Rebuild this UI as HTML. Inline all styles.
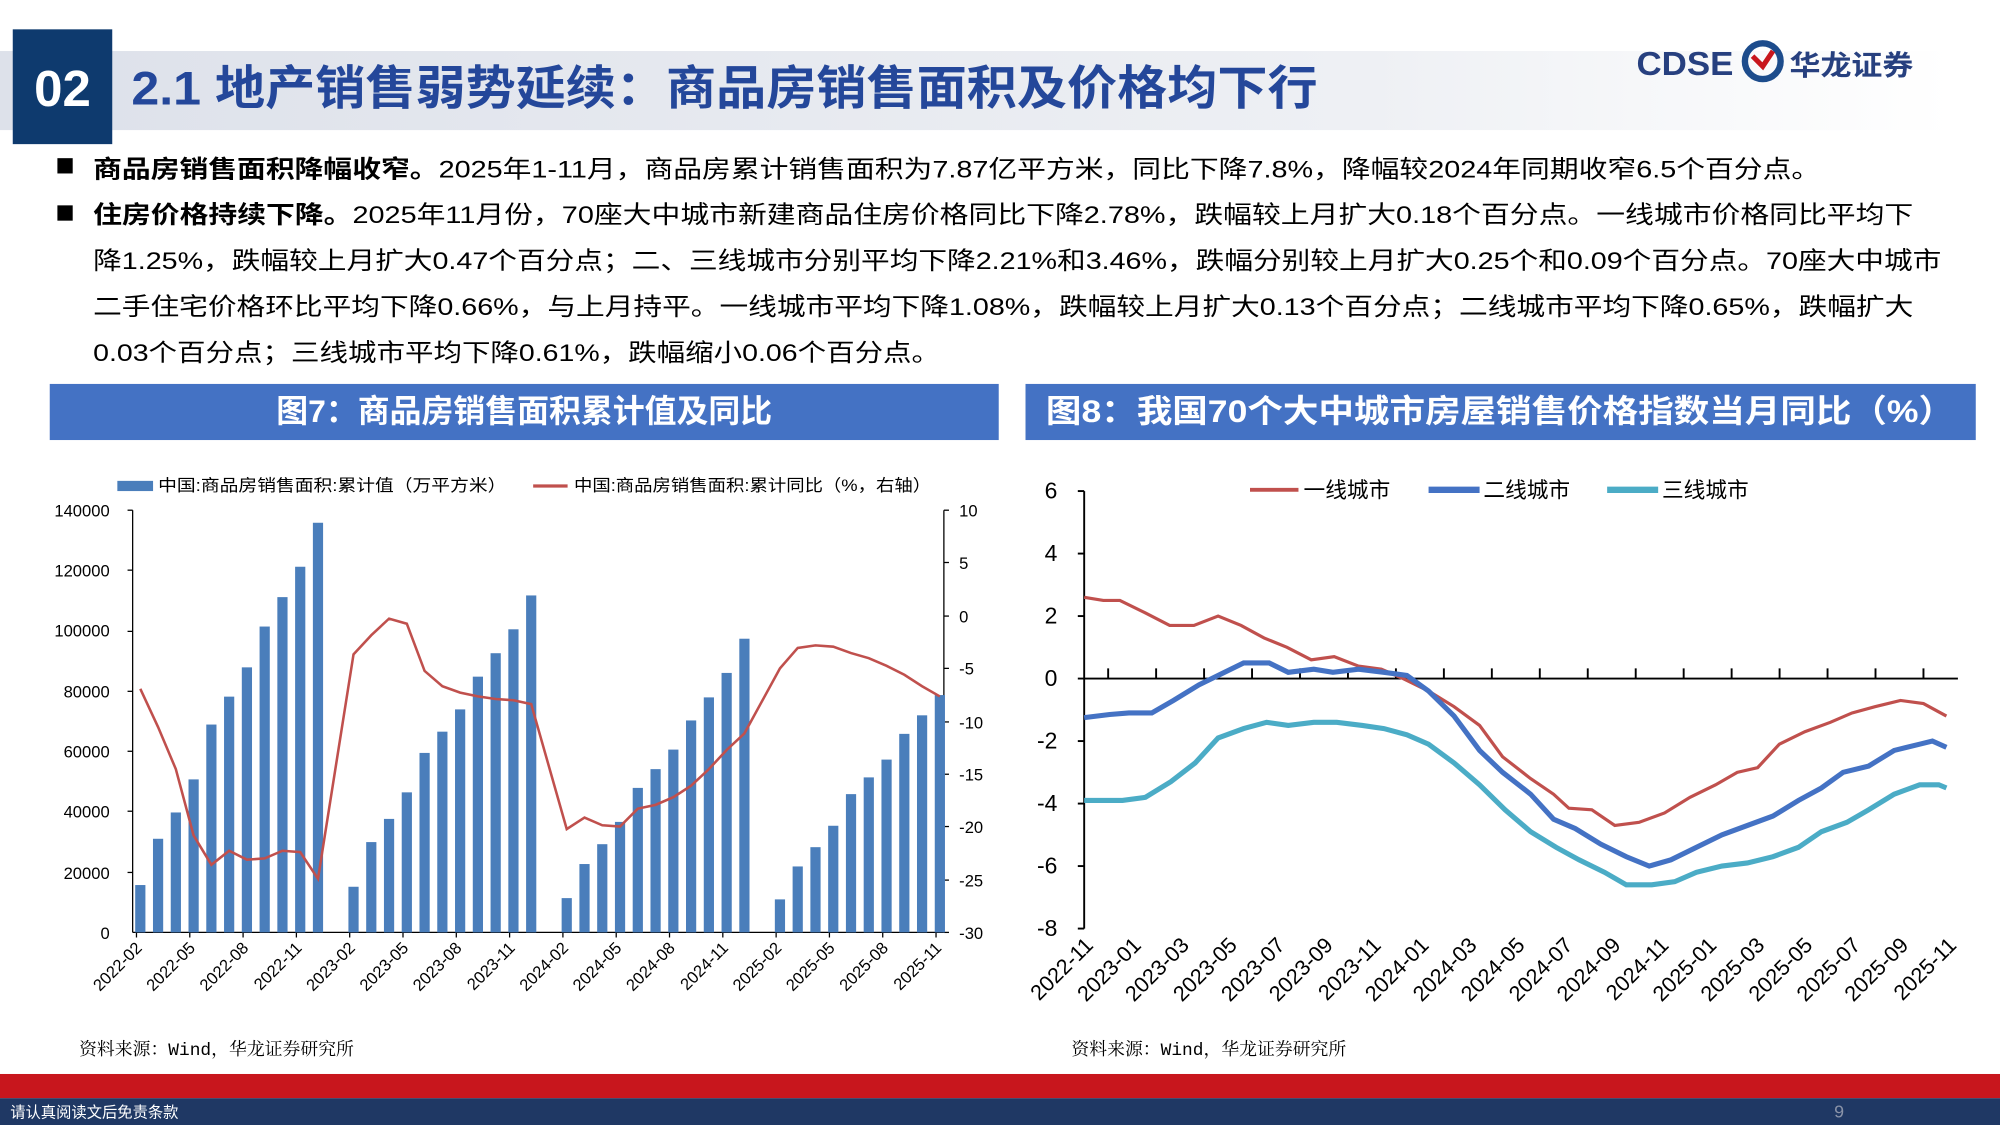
<!DOCTYPE html>
<html><head><meta charset="utf-8"><style>
html,body{margin:0;padding:0;background:#fff;width:2000px;height:1125px;overflow:hidden}
svg{display:block}
text{font-family:"Liberation Sans","Noto Sans CJK SC",sans-serif}
.s{font-family:"Liberation Mono","Noto Serif CJK SC",serif}
</style></head><body>
<svg width="2000" height="1125" viewBox="0 0 1568 882" xmlns="http://www.w3.org/2000/svg">
<defs>
<linearGradient id="hg" x1="0" x2="1" y1="0" y2="0"><stop offset="0" stop-color="#dde1ea"/><stop offset="0.7" stop-color="#eef0f4"/><stop offset="1" stop-color="#fff"/></linearGradient>
</defs>
<rect x="0" y="40" width="1530" height="62" fill="url(#hg)"/>
<rect x="10" y="23" width="78" height="90" fill="#0e3a6e"/>
<text x="49" y="83" font-size="40" font-weight="bold" fill="#fff" text-anchor="middle">02</text>
<text x="103" y="82" font-size="37" font-weight="bold" fill="#24479a" textLength="930" lengthAdjust="spacingAndGlyphs">2.1 地产销售弱势延续：商品房销售面积及价格均下行</text>
<text x="1283" y="59" font-size="26" font-weight="bold" fill="#27407f" textLength="76" lengthAdjust="spacingAndGlyphs">CDSE</text>
<circle cx="1382" cy="48" r="14" fill="none" stroke="#1d4c8c" stroke-width="5"/>
<path d="M1374 44 l8 8 l8 -12" stroke="#c8161d" stroke-width="4" fill="none"/>
<text x="1403" y="59" font-size="22" font-weight="bold" fill="#27407f" textLength="97" lengthAdjust="spacingAndGlyphs">华龙证券</text>

<g font-size="19" fill="#000">
<rect x="45" y="124" width="12" height="12"/>
<text x="73" y="139" textLength="1354" lengthAdjust="spacingAndGlyphs"><tspan font-weight="bold">商品房销售面积降幅收窄。</tspan>2025年1-11月，商品房累计销售面积为7.87亿平方米，同比下降7.8%，降幅较2024年同期收窄6.5个百分点。</text>
<rect x="45" y="161" width="12" height="12"/>
<text x="73" y="175" textLength="1427" lengthAdjust="spacingAndGlyphs"><tspan font-weight="bold">住房价格持续下降。</tspan>2025年11月份，70座大中城市新建商品住房价格同比下降2.78%，跌幅较上月扩大0.18个百分点。一线城市价格同比平均下</text>
<text x="73" y="211" textLength="1449" lengthAdjust="spacingAndGlyphs">降1.25%，跌幅较上月扩大0.47个百分点；二、三线城市分别平均下降2.21%和3.46%，跌幅分别较上月扩大0.25个和0.09个百分点。70座大中城市</text>
<text x="73" y="247" textLength="1427" lengthAdjust="spacingAndGlyphs">二手住宅价格环比平均下降0.66%，与上月持平。一线城市平均下降1.08%，跌幅较上月扩大0.13个百分点；二线城市平均下降0.65%，跌幅扩大</text>
<text x="73" y="283" textLength="664" lengthAdjust="spacingAndGlyphs">0.03个百分点；三线城市平均下降0.61%，跌幅缩小0.06个百分点。</text>
</g>

<rect x="39" y="301" width="744" height="44" fill="#4472c4"/>
<text x="411" y="331" font-size="25" font-weight="bold" fill="#fff" text-anchor="middle">图7：商品房销售面积累计值及同比</text>
<rect x="804" y="301" width="745" height="44" fill="#4472c4"/>
<text x="1176" y="331" font-size="25" font-weight="bold" fill="#fff" text-anchor="middle" textLength="712" lengthAdjust="spacingAndGlyphs">图8：我国70个大中城市房屋销售价格指数当月同比（%）</text>

<g font-size="13" fill="#000">
<rect x="92" y="377" width="28" height="8" fill="#4a7ebb"/>
<text x="124" y="385" textLength="273" lengthAdjust="spacingAndGlyphs">中国:商品房销售面积:累计值（万平方米）</text>
<line x1="418" y1="381" x2="445" y2="381" stroke="#c0504d" stroke-width="2.5"/>
<text x="450" y="385" textLength="280" lengthAdjust="spacingAndGlyphs">中国:商品房销售面积:累计同比（%，右轴）</text>
<g text-anchor="end">
<text x="86" y="405">140000</text><text x="86" y="452">120000</text><text x="86" y="499">100000</text><text x="86" y="547">80000</text><text x="86" y="594">60000</text><text x="86" y="641">40000</text><text x="86" y="689">20000</text><text x="86" y="736">0</text>
</g>
<g>
<text x="752" y="405">10</text><text x="752" y="446">5</text><text x="752" y="488">0</text><text x="752" y="529">-5</text><text x="752" y="571">-10</text><text x="752" y="612">-15</text><text x="752" y="653">-20</text><text x="752" y="695">-25</text><text x="752" y="736">-30</text>
</g>
</g>
<g stroke="#000" stroke-width="1">
<line x1="104" y1="400" x2="104" y2="731"/><line x1="100" y1="400" x2="104" y2="400"/><line x1="100" y1="447" x2="104" y2="447"/><line x1="100" y1="495" x2="104" y2="495"/><line x1="100" y1="542" x2="104" y2="542"/><line x1="100" y1="589" x2="104" y2="589"/><line x1="100" y1="636" x2="104" y2="636"/><line x1="100" y1="684" x2="104" y2="684"/>
<line x1="740" y1="400" x2="740" y2="731"/>
<line x1="740" y1="400" x2="744" y2="400"/><line x1="740" y1="441" x2="744" y2="441"/><line x1="740" y1="483" x2="744" y2="483"/><line x1="740" y1="524" x2="744" y2="524"/><line x1="740" y1="566" x2="744" y2="566"/><line x1="740" y1="607" x2="744" y2="607"/><line x1="740" y1="648" x2="744" y2="648"/><line x1="740" y1="690" x2="744" y2="690"/><line x1="740" y1="731" x2="744" y2="731"/>
<line x1="104" y1="731" x2="740" y2="731"/>
</g>
<g id="bars" fill="#4a7ebb"></g>
<g id="lticks" stroke="#000"></g>
<g id="lxl" font-size="13" fill="#000"></g>
<polyline id="lline" fill="none" stroke="#c0504d" stroke-width="2"/>
<text class="s" x="62" y="827" font-size="14" fill="#000">资料来源：Wind，华龙证券研究所</text>

<g font-size="17" fill="#000">
<line x1="980" y1="384" x2="1018" y2="384" stroke="#c0504d" stroke-width="3"/><text x="1022" y="390">一线城市</text>
<line x1="1120" y1="384" x2="1160" y2="384" stroke="#4472c4" stroke-width="5"/><text x="1163" y="390">二线城市</text>
<line x1="1260" y1="384" x2="1300" y2="384" stroke="#4bacc6" stroke-width="5"/><text x="1303" y="390">三线城市</text>
<g text-anchor="end" font-size="18">
<text x="829" y="391">6</text><text x="829" y="440">4</text><text x="829" y="489">2</text><text x="829" y="538">0</text><text x="829" y="587">-2</text><text x="829" y="636">-4</text><text x="829" y="685">-6</text><text x="829" y="734">-8</text>
</g>
</g>
<g stroke="#000" stroke-width="1.5">
<line x1="850" y1="385" x2="850" y2="728"/>
<line x1="845" y1="385" x2="850" y2="385"/><line x1="845" y1="434" x2="850" y2="434"/><line x1="845" y1="483" x2="850" y2="483"/><line x1="845" y1="581" x2="850" y2="581"/><line x1="845" y1="630" x2="850" y2="630"/><line x1="845" y1="679" x2="850" y2="679"/><line x1="845" y1="728" x2="850" y2="728"/>
<line x1="845" y1="532" x2="1535" y2="532"/>
</g>
<g id="rticks" stroke="#000" stroke-width="1.5"></g>
<polyline id="t1" fill="none" stroke="#c0504d" stroke-width="2.5"/>
<polyline id="t3" fill="none" stroke="#4bacc6" stroke-width="4"/>
<polyline id="t2" fill="none" stroke="#4472c4" stroke-width="4"/>
<g id="rxl" font-size="17" fill="#000"></g>
<text class="s" x="840" y="827" font-size="14" fill="#000">资料来源：Wind，华龙证券研究所</text>

<rect x="0" y="842" width="1568" height="19" fill="#c8161d"/>
<rect x="0" y="861" width="1568" height="21" fill="#1f3864"/>
<text x="8" y="876" font-size="12" fill="#fff">请认真阅读文后免责条款</text>
<text x="1438" y="876" font-size="14" fill="#8a93a8">9</text>
</svg>
<script>
var NS="http://www.w3.org/2000/svg";
function el(p,t,a,txt){var e=document.createElementNS(NS,t);for(var k in a)e.setAttribute(k,a[k]);if(txt)e.textContent=txt;document.getElementById(p).appendChild(e);return e;}
var bv={0:15703,1:31046,2:39768,3:50738,4:68923,5:78178,6:87890,7:101422,8:111179,9:121250,10:135837,
12:15133,13:29946,14:37636,15:46440,16:59515,17:66563,18:73949,19:84806,20:92579,21:100509,22:111735,
24:11369,25:22668,26:29252,27:36642,28:47916,29:54138,30:60617,31:70284,32:77930,33:86042,34:97385,
36:10948,37:21869,38:28262,39:35361,40:45851,41:51401,42:57304,43:65835,44:71982,45:78702};
var ly={0:540,1:570,2:603,3:655,4:678,5:667,6:674,7:673,8:667,9:668,10:689,
12:513,13:498,14:485,15:489,16:526,17:538,18:543,19:546,20:548,21:549,22:552,
24:650,25:641,26:647,27:648,28:634,29:631,30:625,31:616,32:603,33:588,34:575,
36:524,37:508,38:506,39:507,40:512,41:516,42:522,43:529,44:538,45:546};
function lx(i){return 110+i*13.93;}
var pts=[];
for(var i=0;i<46;i++){
 if(bv[i]!==undefined){var h=bv[i]/140000*331;el("bars","rect",{x:lx(i)-4,y:731-h,width:8,height:h});}
 if(ly[i]!==undefined)pts.push(lx(i)+","+ly[i]);
}
document.getElementById("lline").setAttribute("points",pts.join(" "));
var labs=["2022-02","2022-05","2022-08","2022-11","2023-02","2023-05","2023-08","2023-11","2024-02","2024-05","2024-08","2024-11","2025-02","2025-05","2025-08","2025-11"];
for(var j=0;j<16;j++){var x=lx(j*3);el("lticks","line",{x1:x-3,y1:731,x2:x-3,y2:735});
 el("lxl","text",{x:x+2,y:744,"text-anchor":"end",transform:"rotate(-45 "+(x+2)+" 744)"},labs[j]);}
function rp(a){var s=[];for(var k=0;k<a.length;k+=2)s.push(a[k]+","+(532-a[k+1]*24.5));return s.join(" ");}
document.getElementById("t1").setAttribute("points",rp([850,2.6,865,2.5,878,2.5,898,2.1,917,1.7,936,1.7,955,2.0,973,1.7,991,1.3,1009,1.0,1028,0.6,1046,0.7,1065,0.4,1083,0.3,1100,0,1120,-0.4,1140,-0.9,1160,-1.5,1178,-2.5,1200,-3.2,1218,-3.7,1230,-4.15,1248,-4.2,1266,-4.7,1285,-4.6,1305,-4.3,1325,-3.8,1345,-3.4,1362,-3.0,1378,-2.85,1395,-2.1,1415,-1.7,1435,-1.4,1452,-1.1,1470,-0.9,1490,-0.7,1508,-0.8,1526,-1.2]));
document.getElementById("t2").setAttribute("points",rp([850,-1.25,870,-1.15,885,-1.1,903,-1.1,920,-0.7,940,-0.2,960,0.2,975,0.5,995,0.5,1010,0.2,1030,0.3,1045,0.2,1065,0.3,1085,0.2,1103,0.1,1120,-0.4,1140,-1.2,1160,-2.3,1178,-3.0,1200,-3.7,1218,-4.5,1235,-4.8,1255,-5.3,1275,-5.7,1293,-6.0,1310,-5.8,1330,-5.4,1350,-5.0,1370,-4.7,1390,-4.4,1410,-3.9,1428,-3.5,1445,-3.0,1465,-2.8,1485,-2.3,1505,-2.1,1515,-2.0,1526,-2.2]));
document.getElementById("t3").setAttribute("points",rp([850,-3.9,880,-3.9,898,-3.8,918,-3.3,937,-2.7,955,-1.9,975,-1.6,993,-1.4,1010,-1.5,1030,-1.4,1048,-1.4,1068,-1.5,1085,-1.6,1103,-1.8,1120,-2.1,1140,-2.7,1160,-3.4,1180,-4.2,1200,-4.9,1220,-5.4,1238,-5.8,1258,-6.2,1275,-6.6,1295,-6.6,1313,-6.5,1330,-6.2,1350,-6.0,1370,-5.9,1390,-5.7,1410,-5.4,1428,-4.9,1448,-4.6,1465,-4.2,1485,-3.7,1505,-3.4,1520,-3.4,1526,-3.5]));
var rl=["2022-11","2023-01","2023-03","2023-05","2023-07","2023-09","2023-11","2024-01","2024-03","2024-05","2024-07","2024-09","2024-11","2025-01","2025-03","2025-05","2025-07","2025-09","2025-11"];
for(var j=0;j<19;j++){var x=850+j*2*18.8;
 if(j<18)el("rticks","line",{x1:x+18.8,y1:532,x2:x+18.8,y2:524});
 el("rxl","text",{x:x+8,y:742,"text-anchor":"end",transform:"rotate(-45 "+(x+8)+" 742)"},rl[j]);}
</script>
</body></html>
